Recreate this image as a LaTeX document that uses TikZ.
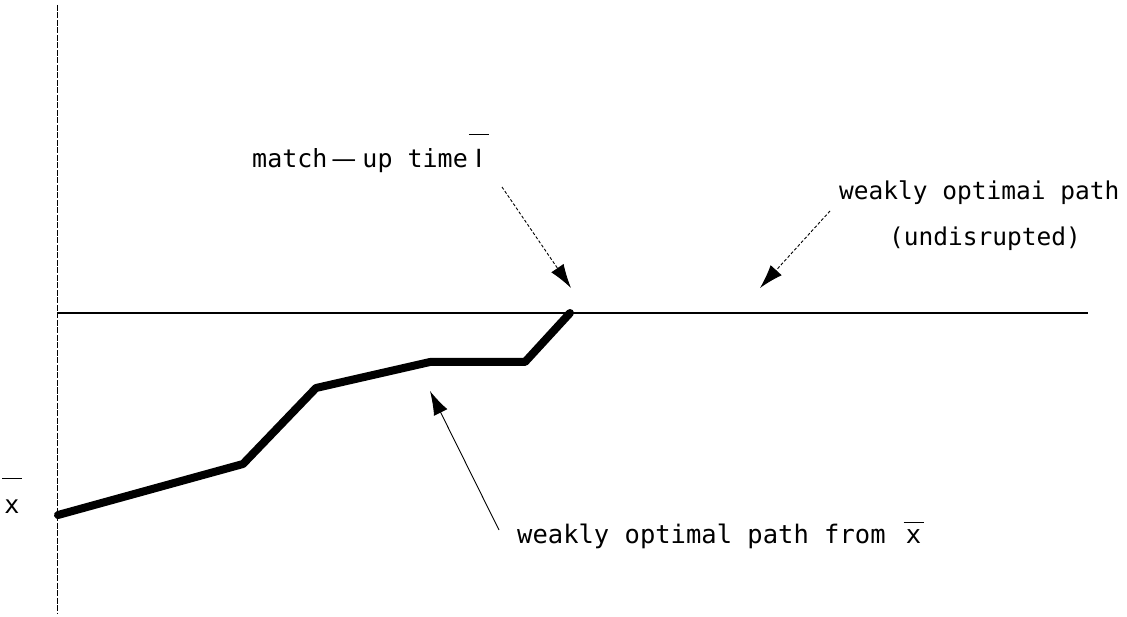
\documentclass[tikz,border=0pt]{standalone}
\usepackage{fontspec}
\setmainfont{DejaVu Sans Mono}
\newfontfamily\dvs{DejaVu Sans}
\usetikzlibrary{arrows.meta}
\newcommand\obar[3]{\ensuremath{\overline{\hbox to #2{\hss\rule{0pt}{#1}\smash{#3}\hss}}}}
\tikzset{
  lbl/.style={inner sep=0pt, font=\fontsize{25}{30}\selectfont},
  lblr/.style={inner sep=0pt, font=\fontsize{24.5}{30}\selectfont},
  lblb/.style={inner sep=0pt, font=\fontsize{25.5}{30}\selectfont},
  ptr/.style={line width=0.9pt, -{Latex[length=24pt,width=15pt]}},
  dptr/.style={ptr, dash pattern=on 3pt off 2pt},
  fatpath/.style={line width=8pt, line join=round, line cap=round},
  axis/.style={line width=1pt, dash pattern=on 6pt off 1.5pt}
}
\begin{document}
\begin{tikzpicture}[x=1pt,y=-1pt]
\useasboundingbox (0,0) rectangle (1127,617);
% axes
\coordinate (ytop) at (57,5);
\coordinate (ybot) at (57,614);
\coordinate (hl) at (58,313);
\coordinate (hr) at (1088,313);
\draw[axis] (ytop) -- (ybot);
\draw[line width=1.6pt] (hl) -- (hr);
% disrupted path
\coordinate (p0) at (58,515);
\coordinate (p1) at (243,464);
\coordinate (p2) at (316,388);
\coordinate (p3) at (430,362);
\coordinate (p4) at (525,362);
\coordinate (p5) at (570,313);
\draw[fatpath] (p0) -- (p1) -- (p2) -- (p3) -- (p4) -- (p5);
% labels
\node[lbl, anchor=base west] (mu) at (252,168)
  {match\kern4pt{\dvs —}\kern6pt up time\kern1pt\obar{32pt}{20pt}{\dvs I}};
\node[lblr, anchor=base west] (wo1) at (839,200) {weakly optimai path};
\node[lblr, anchor=base west] (wo2) at (889,246) {(undisrupted)};
\node[lblb, anchor=base west] (wf) at (517,543)
  {weakly optimal path from\kern18pt\obar{19pt}{20pt}{x}};
\node[lbl, anchor=base] (xb) at (12,513) {\obar{33pt}{20pt}{x}};
% pointers
\coordinate (a1s) at (502,187);
\coordinate (a1e) at (571,288);
\coordinate (a2s) at (830,211);
\coordinate (a2e) at (760,288);
\coordinate (a3s) at (499,530);
\coordinate (a3e) at (430,391);
\draw[dptr] (a1s) -- (a1e);
\draw[dptr] (a2s) -- (a2e);
\draw[ptr] (a3s) -- (a3e);
\end{tikzpicture}
\end{document}
